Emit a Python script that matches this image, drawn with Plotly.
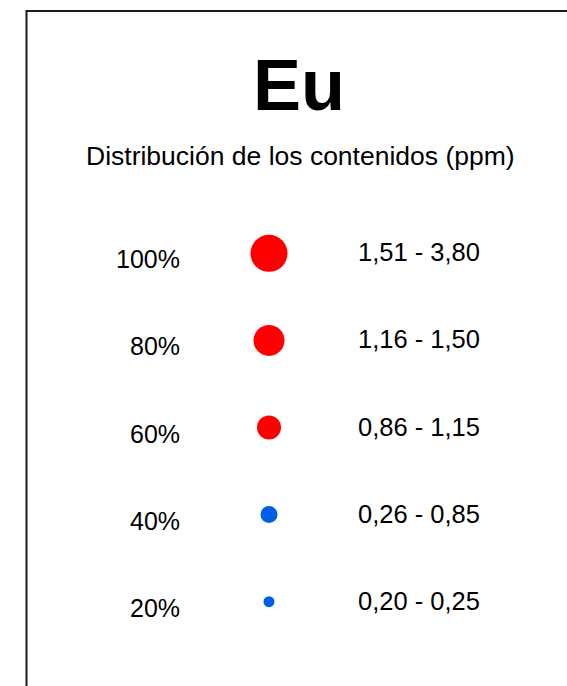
import plotly.graph_objects as go

# ---- data ----
percentiles = [100, 80, 60, 40, 20]
pct_labels = ["100%", "80%", "60%", "40%", "20%"]
range_labels = ["1,51 - 3,80", "1,16 - 1,50", "0,86 - 1,15", "0,26 - 0,85", "0,20 - 0,25"]
marker_sizes = [37, 31, 24, 17, 11]
marker_colors = ["#FF0000", "#FF0000", "#FF0000", "#005FE6", "#005FE6"]
title_text = "Eu"
subtitle_text = "Distribución de los contenidos (ppm)"

OFF = 0  # body margin removed via post_script
W, H = 567, 686
FONT = "Liberation Sans, Arial, sans-serif"

x_marker = 269
x_pct = 182
x_range = 356


def px(sx):
    return (sx - OFF) / W


def py(sy):
    return 1 - (sy - OFF) / H


fig = go.Figure()
fig.add_trace(go.Scatter(
    x=[x_marker] * len(percentiles),
    y=percentiles,
    mode="markers",
    marker=dict(size=marker_sizes, color=marker_colors, opacity=1, line=dict(width=0)),
    hoverinfo="skip",
    showlegend=False,
))

annotations = []
for p, lab in zip(percentiles, pct_labels):
    annotations.append(dict(x=x_pct, y=p, xref="x", yref="y", text=lab,
                            showarrow=False, xanchor="right", yanchor="middle",
                            yshift=-6, font=dict(family=FONT, size=25, color="#000")))
for p, lab in zip(percentiles, range_labels):
    annotations.append(dict(x=x_range, y=p, xref="x", yref="y", text=lab,
                            showarrow=False, xanchor="left", yanchor="middle",
                            yshift=1, font=dict(family=FONT, size=25.5, color="#000")))

annotations.append(dict(x=px(299), y=py(85), xref="paper", yref="paper",
                        text="<b>" + title_text + "</b>", showarrow=False,
                        xanchor="center", yanchor="middle",
                        font=dict(family=FONT, size=72, color="#000")))
annotations.append(dict(x=px(300), y=py(155.5), xref="paper", yref="paper",
                        text=subtitle_text, showarrow=False,
                        xanchor="center", yanchor="middle",
                        font=dict(family=FONT, size=26.5, color="#000")))

# pixel mapping for rows: 100 -> 253.3 px, 20 -> 601.7 px (screen)
ppu = (601.7 - 253.3) / 80
y_top = 100 + (253.3 - OFF) / ppu
y_bot = 100 - (OFF + H - 253.3) / ppu

fig.update_layout(
    width=W, height=H,
    margin=dict(l=0, r=0, t=0, b=0),
    paper_bgcolor="white", plot_bgcolor="white",
    xaxis=dict(range=[OFF, OFF + W], visible=False, fixedrange=True),
    yaxis=dict(range=[y_bot, y_top], visible=False, fixedrange=True),
    annotations=annotations,
    shapes=[dict(type="rect", xref="paper", yref="paper",
                 x0=px(26.5), x1=1.05, y0=-0.05, y1=py(11),
                 line=dict(color="#1a1a1a", width=2), fillcolor="rgba(0,0,0,0)")],
)

fig.write_html(
    "out.html",
    config={"displayModeBar": False},
    post_script="document.body.style.margin='0';document.body.style.overflow='hidden';"
                "document.documentElement.style.overflow='hidden';",
)
